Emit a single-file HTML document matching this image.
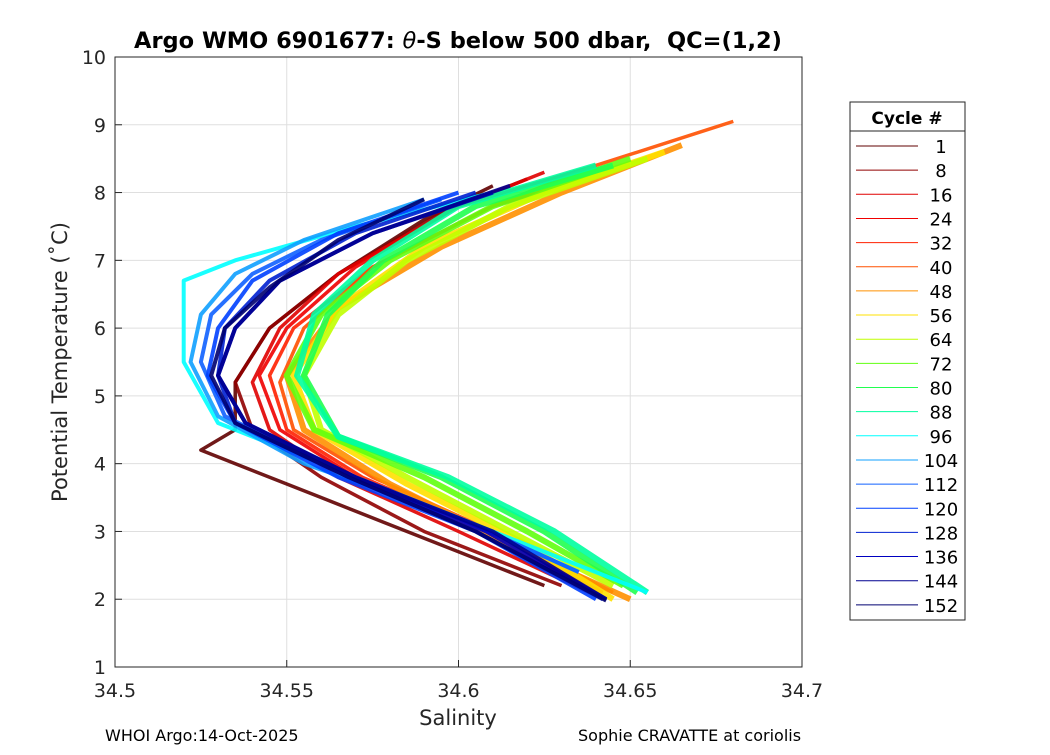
<!DOCTYPE html>
<html><head><meta charset="utf-8"><style>
body{margin:0;background:#fff;font-family:"Liberation Sans","DejaVu Sans",sans-serif}
svg text{font-family:"DejaVu Sans","Liberation Sans",sans-serif}
</style></head><body>
<svg id="c" width="1050" height="750">
<rect width="1050" height="750" fill="#fff"/>
<g id="grid"></g>
<g id="curves"></g>
<rect x="115" y="57" width="687" height="610" fill="none" stroke="#262626" stroke-width="1"/>
<g id="ticks"></g>
<text x="458" y="48" text-anchor="middle" font-size="22.5" font-weight="bold" fill="#000" xml:space="preserve">Argo WMO 6901677: <tspan font-style="italic" font-weight="normal">θ</tspan>-S below 500 dbar,  QC=(1,2)</text>
<text x="458" y="725" text-anchor="middle" font-size="21" fill="#262626">Salinity</text>
<text transform="translate(67,362) rotate(-90)" text-anchor="middle" font-size="21" fill="#262626">Potential Temperature (˚C)</text>
<text x="105" y="741" font-size="16" fill="#000">WHOI Argo:14-Oct-2025</text>
<text x="578" y="741" font-size="16" fill="#000">Sophie CRAVATTE at coriolis</text>
<g id="legend">
<rect x="850" y="102" width="115" height="518" fill="#fff" stroke="#262626"/>
<line x1="850" y1="131" x2="965" y2="131" stroke="#262626"/>
<text x="907" y="124" text-anchor="middle" font-size="17" font-weight="bold">Cycle #</text>
</g>
</svg>
<script>
const xTicks=[34.5,34.55,34.6,34.65,34.7];
const xTickLabels=["34.5","34.55","34.6","34.65","34.7"];
const yTicks=[1,2,3,4,5,6,7,8,9,10];
const cycles=[1,8,16,24,32,40,48,56,64,72,80,88,96,104,112,120,128,136,144,152];
const colors=["#600000","#900000","#e00000","#f00000","#ff2000","#ff5000","#ff9000","#ffe000","#c0ff00","#60ff10","#20ff50","#00ffa0","#00ffff","#10a0ff","#1060ff","#0040ff","#0020d0","#0000c0","#000090","#000070"];
const temps=[
[8.1,7.6,6.8,6.0,5.2,4.5,4.2,3.5,2.7,2.2],
[8.2,7.7,6.8,6.0,5.2,4.5,3.8,3.0,2.2],
[8.3,7.8,6.8,6.0,5.2,4.5,3.8,3.0,2.1],
[8.4,7.8,6.9,6.0,5.3,4.5,3.8,3.0,2.1],
[8.4,7.8,6.9,6.0,5.3,4.5,3.8,3.0,2.1],
[9.05,8.4,7.8,6.9,6.0,5.2,4.5,3.8,3.0,2.1],
[8.7,8.0,7.2,6.3,5.3,4.5,3.7,2.8,2.0],
[8.6,8.0,7.2,6.3,5.3,4.5,3.7,2.8,2.0],
[8.5,7.8,7.0,6.2,5.3,4.5,3.8,3.0,2.2],
[8.5,7.8,7.0,6.2,5.3,4.5,3.8,3.0,2.2],
[8.4,7.8,7.0,6.2,5.3,4.4,3.8,3.0,2.1],
[8.4,7.8,7.0,6.2,5.3,4.4,3.8,3.0,2.1],
[8.0,7.5,7.0,6.7,6.0,5.5,4.6,3.8,3.0,2.1],
[7.9,7.3,6.8,6.2,5.5,4.7,4.0,3.2,2.4],
[7.9,7.3,6.8,6.2,5.5,4.7,4.0,3.2,2.4],
[8.0,7.4,6.7,6.0,5.3,4.6,3.8,3.0,2.0],
[8.0,7.4,6.7,6.0,5.3,4.6,3.8,3.0,2.0],
[8.0,7.4,6.7,6.0,5.3,4.6,3.8,3.0,2.0],
[8.1,7.4,6.7,6.0,5.3,4.6,3.8,3.0,2.0],
[7.9,7.3,6.6,6.0,5.3,4.6,3.8,3.0,1.98]];
const sals=[
[34.61,34.59,34.565,34.545,34.535,34.535,34.525,34.56,34.6,34.625],
[34.62,34.595,34.565,34.545,34.535,34.54,34.56,34.59,34.63],
[34.625,34.6,34.565,34.548,34.54,34.545,34.565,34.6,34.638],
[34.64,34.6,34.57,34.55,34.542,34.548,34.57,34.605,34.64],
[34.65,34.61,34.575,34.552,34.545,34.55,34.572,34.608,34.642],
[34.68,34.64,34.61,34.575,34.555,34.548,34.552,34.575,34.61,34.645],
[34.665,34.63,34.595,34.565,34.55,34.555,34.58,34.615,34.65],
[34.66,34.625,34.59,34.565,34.552,34.558,34.585,34.62,34.645],
[34.655,34.615,34.585,34.565,34.555,34.56,34.585,34.615,34.645],
[34.65,34.61,34.58,34.56,34.55,34.558,34.59,34.62,34.648],
[34.645,34.605,34.578,34.562,34.555,34.565,34.595,34.625,34.652],
[34.64,34.6,34.575,34.558,34.553,34.565,34.597,34.628,34.655],
[34.61,34.57,34.535,34.52,34.52,34.52,34.53,34.57,34.61,34.655],
[34.59,34.555,34.535,34.525,34.522,34.53,34.555,34.6,34.635],
[34.595,34.56,34.54,34.528,34.525,34.532,34.56,34.6,34.635],
[34.6,34.565,34.54,34.53,34.527,34.535,34.565,34.605,34.64],
[34.605,34.57,34.545,34.532,34.53,34.535,34.568,34.605,34.642],
[34.61,34.575,34.548,34.535,34.53,34.538,34.57,34.608,34.643],
[34.615,34.575,34.548,34.535,34.53,34.538,34.57,34.61,34.643],
[34.59,34.565,34.545,34.532,34.528,34.535,34.568,34.605,34.643]];
const NS="http://www.w3.org/2000/svg";
const X=s=>115+(s-34.5)/0.2*687;
const Y=t=>667-(t-1)/9*610;
function mk(tag,a,p){const e=document.createElementNS(NS,tag);for(const k in a)e.setAttribute(k,a[k]);p.appendChild(e);return e;}
const grid=document.getElementById('grid'),ticks=document.getElementById('ticks');
xTicks.forEach((v,i)=>{
 const g=mk('line',{x1:X(v),x2:X(v),y1:57,y2:667,stroke:'#dfdfdf'},grid);
 
 
 mk('line',{x1:X(v),x2:X(v),y1:667,y2:660,stroke:'#262626'},ticks);
 const t=mk('text',{x:X(v),y:697,'text-anchor':'middle','font-size':19,fill:'#262626'},ticks);
 t.textContent=xTickLabels[i];
 
 
});
yTicks.forEach(v=>{
 const g=mk('line',{x1:115,x2:802,y1:Y(v),y2:Y(v),stroke:'#dfdfdf'},grid);
 
 
 mk('line',{x1:115,x2:122,y1:Y(v),y2:Y(v),stroke:'#262626'},ticks);
 const t=mk('text',{x:106,y:Y(v)+7,'text-anchor':'end','font-size':19,fill:'#262626'},ticks);
 t.textContent=String(v);
 
 
});
const cg=document.getElementById('curves');
cycles.forEach((c,i)=>{
 const pts=sals[i].map((s,j)=>X(s)+','+Y(temps[i][j])).join(' ');
 const w=(i>=6&&i<=11)?6:(i>=12?4:3.5);
 const p=mk('polyline',{points:pts,fill:'none',stroke:colors[i],'stroke-width':w,'stroke-linejoin':'round','stroke-opacity':0.9},cg);
 
 
});
const lg=document.getElementById('legend');
cycles.forEach((c,i)=>{
 const y=146+i*24.15;
 const l=mk('line',{x1:856,x2:918,y1:y,y2:y,stroke:colors[i],'stroke-width':1},lg);
 
 
 const t=mk('text',{x:941,y:y+7,'text-anchor':'middle','font-size':18,fill:'#000'},lg);
 t.textContent=String(c);
 
 
});
</script>
</body></html>
